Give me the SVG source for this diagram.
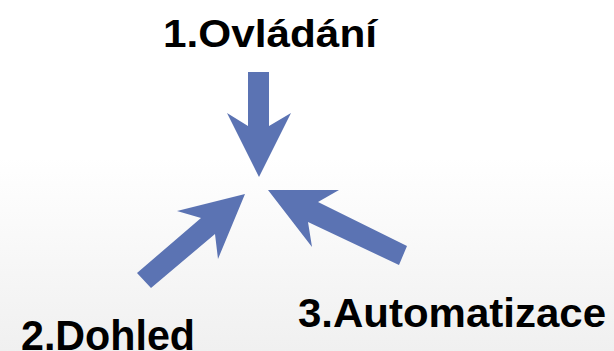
<svg xmlns="http://www.w3.org/2000/svg" width="614" height="351" viewBox="0 0 614 351">
  <defs>
    <linearGradient id="bg" x1="0" y1="0" x2="0" y2="1">
      <stop offset="0" stop-color="#ffffff"/>
      <stop offset="0.45" stop-color="#ffffff"/>
      <stop offset="1" stop-color="#f0f0f0"/>
    </linearGradient>
    <style>
      .lbl { font-family: "Liberation Sans", Arial, sans-serif; font-weight: bold; fill: #000000; }
      .arr { fill: #5b73b3; stroke: none; }
    </style>
  </defs>
  <rect x="0" y="0" width="614" height="351" fill="url(#bg)"/>
  <g id="connectors">
    <polygon class="arr" points="248,72 269,72 269,126 291,113 259,177 227,113 248,126"/>
    <polygon class="arr" points="137,273 201,218 177,211 245,194 218,259 215,234 151,288"/>
    <polygon class="arr" points="407,246 318,202 339,190 268,190 312,247 308,222 399,265"/>
  </g>
  <g id="node-ovladani">
    <text class="lbl" x="163" y="47" font-size="38" textLength="214" lengthAdjust="spacingAndGlyphs">1.Ovládání</text>
  </g>
  <g id="node-dohled">
    <text class="lbl" x="21" y="350" font-size="42" textLength="174" lengthAdjust="spacingAndGlyphs">2.Dohled</text>
  </g>
  <g id="node-automatizace">
    <text class="lbl" x="298" y="327" font-size="41" textLength="308" lengthAdjust="spacingAndGlyphs">3.Automatizace</text>
  </g>
</svg>
